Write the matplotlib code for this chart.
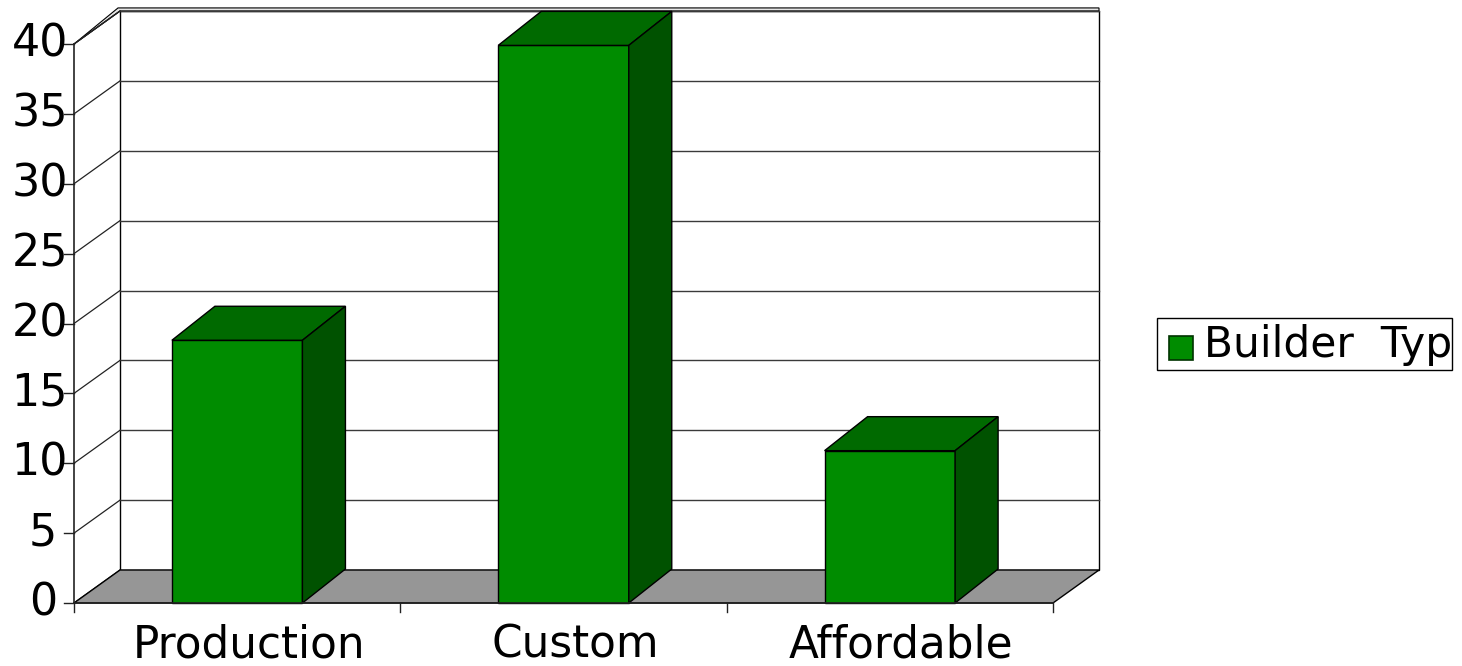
import matplotlib
matplotlib.use("Agg")
import matplotlib.pyplot as plt
from matplotlib.patches import Polygon, Rectangle

# ---- data ----
categories = ["Production", "Custom", "Affordable"]
values = [18.8, 39.9, 10.9]
y_ticks = [0, 5, 10, 15, 20, 25, 30, 35, 40]
series_name = "Builder  Typ"

# ---- colours ----
FRONT = "#008C00"
TOP = "#006A00"
SIDE = "#005200"
FLOOR = "#969696"

W, H = 1462, 666
fig = plt.figure(figsize=(W / 100, H / 100), dpi=100)
ax = fig.add_axes([0, 0, 1, 1])

# front plane: x=-0.5 at px 74, x=2.5 at px 1053 ; v=0 at px 603, v=40 at px 44
PXC = (1053 - 74) / 3.0
PXV = (603 - 44) / 40.0
ax.set_xlim(-0.5 - 74 / PXC, -0.5 + (W - 74) / PXC)
ax.set_ylim(-(H - 603) / PXV, 603 / PXV)
ax.axis("off")

dx = 46 / PXC          # depth offset (wall)
dy = 33 / PXV
bdx = 43 / PXC         # bar depth
bdy = 34 / PXV
xl, xr = -0.5, 2.5
vmax = 40

def poly(pts, fc, ec="black", lw=1.0, z=1):
    ax.add_patch(Polygon(pts, closed=True, facecolor=fc, edgecolor=ec, linewidth=lw, zorder=z))

# wall thickness strip on top
th = 0.22
poly([(xl, vmax), (xl + dx - 0.006, vmax + dy + th), (xr + dx, vmax + dy + th),
      (xr + dx, vmax + dy), (xl + dx, vmax + dy)], "#E6E6E6", lw=0.8, z=1)

# back wall
poly([(xl + dx, dy), (xr + dx, dy), (xr + dx, vmax + dy), (xl + dx, vmax + dy)], "white", lw=1.0, z=1)

# grid lines on back wall + left wall diagonals
for t in y_ticks:
    if t > 0:
        ax.plot([xl + dx, xr + dx], [t + dy, t + dy], color="#3A3A3A", lw=1.0, zorder=2)
    ax.plot([xl, xl + dx], [t, t + dy], color="#222222", lw=0.9, zorder=2)
ax.plot([xl, xl + dx], [vmax, vmax + dy], color="#222222", lw=0.9, zorder=2)

# floor
poly([(xl, 0), (xr, 0), (xr + dx, dy), (xl + dx, dy)], FLOOR, lw=1.0, z=3)

# bars
bw = 0.4
for i, v in enumerate(values):
    x0, x1 = i - bw / 2, i + bw / 2
    poly([(x0, 0), (x1, 0), (x1, v), (x0, v)], FRONT, lw=1.0, z=4)
    poly([(x0, v), (x1, v), (x1 + bdx, v + bdy), (x0 + bdx, v + bdy)], TOP, lw=1.0, z=4)
    poly([(x1, 0), (x1 + bdx, bdy), (x1 + bdx, v + bdy), (x1, v)], SIDE, lw=1.0, z=4)

# front axes lines and ticks
ax.plot([xl, xl], [0, vmax], color="#222222", lw=1.2, zorder=5)
ax.plot([xl, xr], [0, 0], color="#222222", lw=1.2, zorder=5)
tl = 10 / PXC
for t in y_ticks:
    ax.plot([xl - tl, xl], [t, t], color="#222222", lw=1.0, zorder=5)
for b in [-0.5, 0.5, 1.5, 2.5]:
    ax.plot([b, b], [0, -9 / PXV], color="#222222", lw=1.0, zorder=5)

# y labels
for t in y_ticks:
    right = 68 if t >= 10 else 57
    ax.text(-0.5 + (right - 74) / PXC, t, str(t), ha="right", va="center",
            fontsize=32, family="DejaVu Sans", color="black", zorder=6)

# category labels
for i, c in enumerate(categories):
    ax.text(i + 0.035, -54 / PXV, c, ha="center", va="baseline",
            fontsize=31.5, family="DejaVu Sans", color="black", zorder=6)

# legend (manual)
def fx(px):
    return px / W
def fy(py):
    return 1 - py / H
box = Rectangle((fx(1157), fy(370)), fx(1452) - fx(1157), fy(318) - fy(370),
                transform=fig.transFigure, facecolor="white", edgecolor="black", linewidth=1.0)
fig.patches.append(box)
sq = Rectangle((fx(1169), fy(360)), fx(1193) - fx(1169), fy(336) - fy(360),
               transform=fig.transFigure, facecolor=FRONT, edgecolor="#003300", linewidth=1.2)
fig.patches.append(sq)
txt = fig.text(fx(1204), fy(345), series_name, ha="left", va="center",
               fontsize=30.5, family="DejaVu Sans", color="black")

fig.savefig("out.png", dpi=100)
